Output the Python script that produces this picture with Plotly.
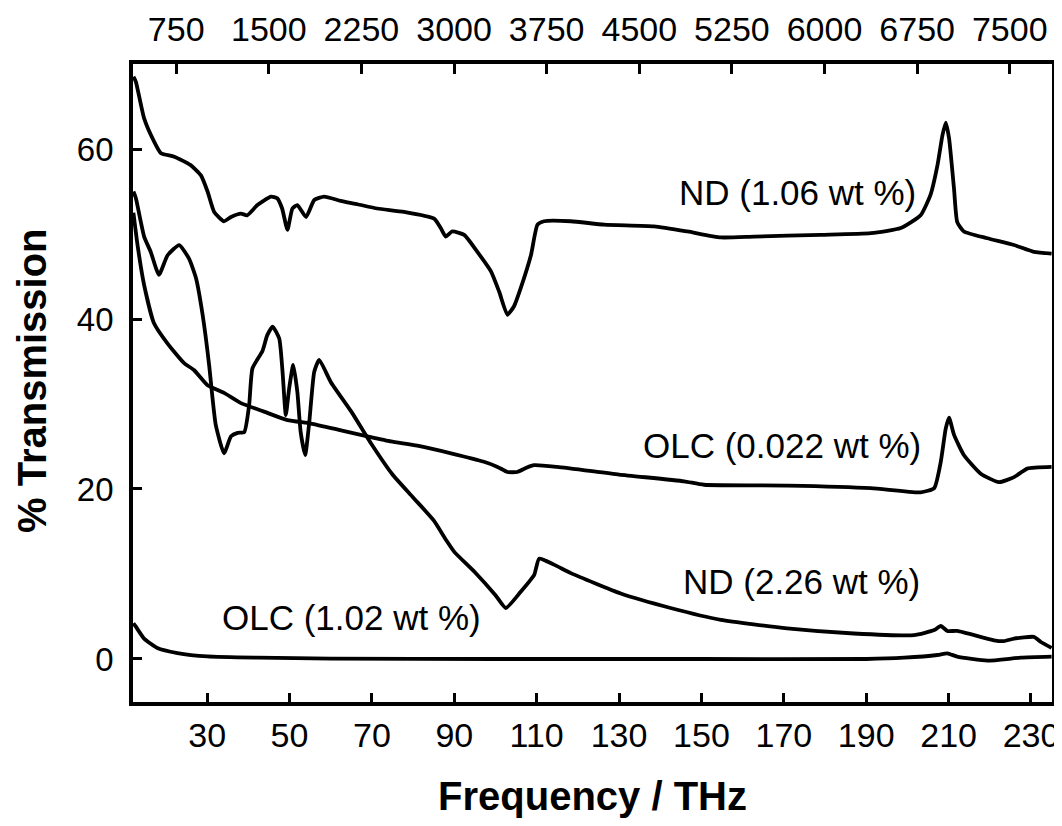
import plotly.graph_objects as go

# ---- data (frequency in THz, % transmission) ----
nd106_f = [12.1, 12.7, 14.7, 17.1, 18.8, 22.0, 26.0, 28.5, 30.1, 31.7, 34.1, 35.8, 38.2, 39.7, 42.2, 45.5,
           47.0, 48.2, 49.5, 50.7, 51.9, 54.0, 56.0, 58.4, 62.4, 66.5, 71.3, 77.8, 85.1, 86.7, 87.9, 89.5,
           92.4, 95.6, 98.9, 100.9, 102.9, 104.5, 106.1, 108.6, 110.2, 111.8, 118.3, 126.4, 138.5, 146.6,
           154.7, 162.8, 179.0, 191.1, 198.4, 203.2, 205.6, 207.3, 208.5, 209.3, 210.1, 211.3, 212.1,
           213.7, 219.4, 225.9, 230.7, 235.0]
nd106_t = [68.5, 67.9, 63.6, 60.9, 59.5, 59.1, 58.1, 56.9, 55.0, 52.6, 51.5, 52.0, 52.4, 52.2, 53.4, 54.4,
           54.2, 53.0, 50.5, 53.0, 53.4, 52.0, 54.0, 54.4, 53.9, 53.5, 53.0, 52.6, 51.8, 50.7, 49.7, 50.3,
           49.9, 47.9, 45.6, 43.2, 40.5, 41.5, 43.6, 47.5, 51.1, 51.5, 51.5, 51.1, 50.9, 50.3,
           49.6, 49.7, 49.9, 50.1, 50.7, 52.2, 54.6, 58.1, 61.6, 63.1, 61.3, 55.4, 51.4,
           50.3, 49.5, 48.7, 47.9, 47.7]

nd226_f = [12.1, 12.7, 14.7, 16.3, 18.3, 20.4, 23.2, 25.6, 27.3, 28.9, 30.5, 31.3, 32.1, 34.1, 35.8, 37.4,
           39.0, 40.2, 41.0, 43.4, 44.6, 45.9, 47.5, 48.3, 49.1, 49.9, 50.9, 51.9, 52.7, 53.8, 54.8, 56.0,
           57.2, 60.0, 65.0, 70.0, 75.0, 80.0, 85.0, 88.0, 90.0, 95.0, 100.0, 102.5, 106.1, 109.4, 110.6,
           114.2, 118.3, 130.4, 142.5, 154.7, 170.8, 187.0, 201.6, 206.5, 208.1, 209.7, 212.1, 221.0,
           223.4, 225.9, 230.7, 232.4, 235.0]
nd226_t = [55.0, 54.2, 49.7, 47.9, 45.2, 47.5, 48.7, 47.1, 44.8, 40.5, 34.5, 30.7, 27.5, 24.2, 26.2, 26.6,
           26.7, 29.9, 34.2, 36.2, 38.1, 39.1, 37.7, 33.8, 28.7, 31.8, 34.6, 31.4, 26.7, 24.0, 27.9, 33.8,
           35.2, 32.6, 29.1, 25.2, 21.7, 19.0, 16.3, 14.0, 12.6, 10.2, 7.5, 6.0, 7.9, 9.9, 11.8,
           11.1, 10.1, 7.7, 6.0, 4.6, 3.6, 3.0, 2.8, 3.4, 3.9, 3.3, 3.3, 2.2,
           2.1, 2.4, 2.6, 2.0, 1.3]

olc0022_f = [12.1, 13.1, 14.7, 17.1, 20.4, 24.4, 26.8, 30.1, 34.1, 38.2, 43.8, 49.5, 55.2, 62.5, 68.9, 74.6,
             81.0, 89.2, 97.2, 100.5, 102.9, 105.3, 107.5, 109.4, 115.0, 130.0, 145.8, 150.6, 170.9, 191.1,
             203.2, 206.5, 208.1, 209.3, 210.1, 211.3, 213.7, 217.8, 222.2, 225.9, 229.1, 235.0]
olc0022_t = [52.5, 48.7, 44.0, 39.5, 37.1, 34.8, 34.0, 32.2, 31.3, 30.1, 29.1, 28.1, 27.7, 26.9, 26.2, 25.6,
             25.1, 24.2, 23.2, 22.6, 22.0, 22.0, 22.5, 22.8, 22.6, 21.7, 20.9, 20.5, 20.4, 20.1,
             19.6, 20.1, 23.2, 27.1, 28.4, 26.4, 24.0, 21.8, 20.8, 21.4, 22.4, 22.6]

olc102_f = [12.1, 12.7, 14.7, 17.9, 22.8, 30.1, 42.2, 60.0, 100.0, 150.0, 190.0, 199.2, 207.3, 209.7,
            212.1, 219.4, 227.5, 235.0]
olc102_t = [4.2, 3.8, 2.4, 1.3, 0.7, 0.3, 0.15, 0.05, 0.0, 0.0, 0.0, 0.15, 0.47, 0.67,
            0.27, -0.2, 0.15, 0.27]

labels = ["ND (1.06 wt %)", "OLC (0.022 wt %)", "ND (2.26 wt %)", "OLC (1.02 wt %)"]
label_f = [173.4, 169.6, 174.2, 65.0]
label_t = [54.9, 25.1, 9.06, 4.9]

bottom_ticks = [30, 50, 70, 90, 110, 130, 150, 170, 190, 210, 230]
top_ticks = [750, 1500, 2250, 3000, 3750, 4500, 5250, 6000, 6750, 7500]
THZ_PER_CM = 0.0299792458
x_range = [12.0, 235.1]
y_range = [-5.06, 70.0]

FONT = "Liberation Sans, Arial, Helvetica, sans-serif"
LW = 3.8
W, H = 1062, 826
ML, MR, MT, MB = 125, 18, 56, 132

fig = go.Figure()
for f, t in [(nd106_f, nd106_t), (olc0022_f, olc0022_t), (nd226_f, nd226_t), (olc102_f, olc102_t)]:
    fig.add_trace(go.Scatter(x=f, y=t, mode="lines",
                             line=dict(color="black", width=LW, shape="spline", smoothing=0.5),
                             showlegend=False, hoverinfo="skip"))

# invisible trace to activate the top (wavenumber) axis
fig.add_trace(go.Scatter(x=[v / THZ_PER_CM for v in olc102_f], y=olc102_t, xaxis="x2",
                         mode="lines", line=dict(width=0, color="rgba(0,0,0,0)"),
                         showlegend=False, hoverinfo="skip"))

for txt, xf, yt in zip(labels, label_f, label_t):
    fig.add_annotation(x=xf, y=yt, xref="x", yref="y", text=txt, showarrow=False,
                       font=dict(family=FONT, size=35, color="black"))

# y-axis title as a rotated annotation (placed in the left margin)
pw, ph = W - ML - MR, H - MT - MB
fig.add_annotation(x=(24 - ML) / pw, y=(H - MB - 373) / ph, xref="paper", yref="paper",
                   text="<b>% Transmission</b>", textangle=-90, showarrow=False,
                   xanchor="center", yanchor="middle",
                   font=dict(family=FONT, size=40, color="black"))

fig.update_layout(
    width=W, height=H,
    margin=dict(l=ML, r=MR, t=MT, b=MB),
    paper_bgcolor="white", plot_bgcolor="white",
    font=dict(family=FONT, color="black"),
    xaxis=dict(range=x_range, tickvals=bottom_ticks, ticks="inside", ticklen=9, tickwidth=2.5,
               tickcolor="black", showline=True, linewidth=LW, linecolor="black", mirror=True,
               showgrid=False, zeroline=False, tickfont=dict(size=34, family=FONT),
               ticklabelstandoff=0, automargin=False,
               title=dict(text="<b>Frequency / THz</b>", font=dict(size=40, family=FONT), standoff=30)),
    xaxis2=dict(range=[x_range[0] / THZ_PER_CM, x_range[1] / THZ_PER_CM], overlaying="x", side="top",
                anchor="y", tickvals=top_ticks, ticks="inside", ticklen=10, tickwidth=2.5,
                tickcolor="black", showline=False, showgrid=False, zeroline=False,
                tickfont=dict(size=34, family=FONT), ticklabelstandoff=15, automargin=False),
    yaxis=dict(range=y_range, tickvals=[0, 20, 40, 60], ticks="inside", ticklen=9, tickwidth=2.5,
               tickcolor="black", showline=True, linewidth=LW, linecolor="black", mirror=True,
               showgrid=False, zeroline=False, tickfont=dict(size=33, family=FONT),
               ticklabelstandoff=9, automargin=False),
)

fig.write_html("out.html")
